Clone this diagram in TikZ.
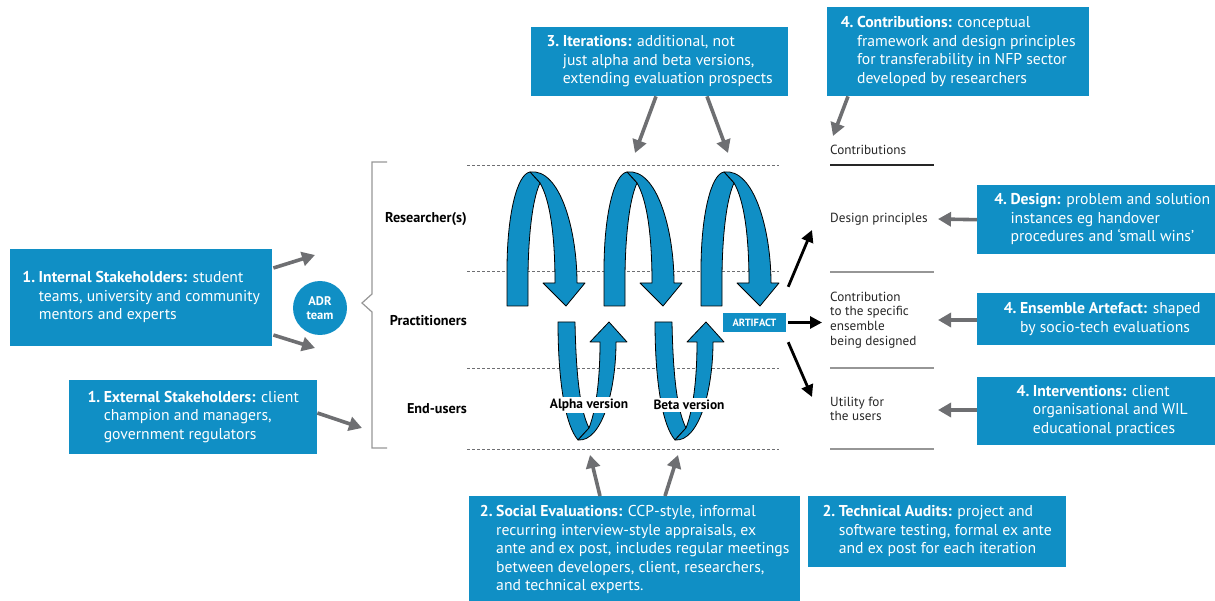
\documentclass[tikz,border=0pt]{standalone}
\usepackage{fontspec}
\setmainfont{PT Sans}
\usetikzlibrary{arrows.meta,calc}
\definecolor{adrblue}{RGB}{16,143,197}
\definecolor{agray}{RGB}{110,111,114}
\definecolor{lgray}{RGB}{150,150,150}
\newcommand{\boxtxt}[2]{\begin{tabular}{@{}l@{\hspace{3.5pt}}l@{}}\textbf{#1}&#2\end{tabular}}
\tikzset{
  bbox/.style={fill=adrblue, text=white, inner sep=0pt, anchor=north west, font=\fontsize{15.7}{18.5}\selectfont},
  garrow/.style={draw=agray, line width=3.6pt, -{Triangle[width=14pt,length=13pt]}},
  karrow/.style={draw=black, line width=2.8pt, -{Triangle[width=12pt,length=12pt]}},
  rowlab/.style={font=\bfseries\fontsize{14.2}{16}\selectfont, anchor=east, inner sep=0pt},
  rlab/.style={font=\fontsize{13.2}{14.7}\selectfont, anchor=west, inner sep=0pt, align=left, text=black!85},
  dline/.style={draw=agray, dash pattern=on 3pt off 2pt, line width=0.8pt},
  sepline/.style={draw=lgray, line width=1.5pt},
  ribbon/.style={fill=adrblue, draw=black, line width=0.8pt, line join=round},
  verlab/.style={fill=white, inner xsep=1pt, inner ysep=2pt, font=\bfseries\fontsize{13.4}{15}\selectfont},
}
\begin{document}
\begin{tikzpicture}[x=1pt,y=-1pt]
\useasboundingbox (0,0) rectangle (1215,601);

% dashed swimlane lines
\foreach \yy in {165,271,368,449}{\draw[dline] (467,\yy) -- (779,\yy);}

% row labels
\node[rowlab] (lres) at (467,219) {Researcher(s)};
\node[rowlab] (lpra) at (467,321) {Practitioners};
\node[rowlab] (lend) at (467,409) {End-users};

% bracket
\draw[lgray, line width=1.2pt] (387,162) -- (372,162) -- (372,294) -- (362,303) -- (372,312) -- (372,448) -- (387,448);

% top loops
\foreach \s in {0,97,194}{
\begin{scope}[shift={(\s,0)}]
  \draw[ribbon] (530,172) .. controls (560,168) and (577,230) .. (577,283)
     -- (585,283) -- (566,306) -- (543,283) -- (555,283)
     .. controls (555,235) and (550,200) .. (540,183) -- cycle;
  \draw[ribbon] (507,306) -- (507,270) .. controls (507,215) and (517,174) .. (530,172)
     -- (540,183) .. controls (532,200) and (528,240) .. (528,280) -- (528,306) -- cycle;
\end{scope}}

% bottom loops
\foreach \s in {0,97}{
\begin{scope}[shift={(\s,0)}]
  \draw[ribbon] (558,322) -- (575,322) .. controls (576,375) and (580,410) .. (589,428)
     -- (578,440) .. controls (565,425) and (558,380) .. (558,322) -- cycle;
  \draw[ribbon] (578,440) .. controls (602,442) and (616,390) .. (616,342)
     -- (627,342) -- (609,322) -- (590,342) -- (600,342)
     .. controls (600,380) and (596,410) .. (589,428) -- cycle;
\end{scope}}
\node[verlab] (alpha) at (589,405) {Alpha version};
\node[verlab] (beta) at (689,405) {Beta version};

% artifact
\node[fill=adrblue, text=white, font=\bfseries\fontsize{10.5}{12}\selectfont, minimum width=63pt, minimum height=19pt, inner sep=0pt] (art) at (754.5,322.5) {ARTIFACT};
\coordinate (k1) at (812,230);
\coordinate (k2) at (822,322.5);
\coordinate (k3) at (812,397);
\draw[karrow] ($(art.north east)+(2,-26)$) -- (k1);
\draw[karrow] ($(art.east)+(2,0)$) -- (k2);
\draw[karrow] ($(art.south east)+(2,10)$) -- (k3);

% right column
\node[rlab] (rcon) at (830,150) {Contributions};
\draw[black!85, line width=1.2pt] (830,165) -- (934,165);
\node[rlab] (rdes) at (830,219) {Design principles};
\draw[sepline] (830,272) -- (934,272);
\node[rlab] (rens) at (830,320) {Contribution\\to the specific\\ensemble\\being designed};
\draw[sepline] (830,368) -- (934,368);
\node[rlab] (ruti) at (830,409) {Utility for\\the users};
\draw[sepline] (830,449) -- (934,449);

% ADR team
\node[circle, fill=adrblue, minimum size=54pt, text=white, font=\bfseries\fontsize{12.5}{14.5}\selectfont, align=center, inner sep=0pt] (adr) at (320,308) {ADR\\team};

% blue boxes
\node[bbox, minimum width=262pt, minimum height=97pt] (int) at (10,249)
  {\boxtxt{1.}{\textbf{Internal Stakeholders:} student\\&teams, university and community\\&mentors and experts}};
\node[bbox, minimum width=248pt, minimum height=74pt] (ext) at (69,380)
  {\boxtxt{1.}{\textbf{External Stakeholders:} client\\&champion and managers,\\&government regulators}};
\node[bbox, minimum width=257pt, minimum height=69pt] (itr) at (531,27)
  {\boxtxt{3.}{\textbf{Iterations:} additional, not\\&just alpha and beta versions,\\&extending evaluation prospects}};
\node[bbox, minimum width=262pt, minimum height=89pt] (con) at (827,7)
  {\boxtxt{4.}{\textbf{Contributions:} conceptual\\&framework and design principles\\&for transferability in NFP sector\\&developed by researchers}};
\node[bbox, minimum width=250pt, minimum height=69pt] (des) at (977,185)
  {\boxtxt{4.}{\textbf{Design:} problem and solution\\&instances eg handover\\&procedures and `small wins'}};
\node[bbox, minimum width=250pt, minimum height=52pt] (ens) at (977,293)
  {\boxtxt{4.}{\textbf{Ensemble Artefact:} shaped\\&by socio-tech evaluations}};
\node[bbox, minimum width=250pt, minimum height=68pt] (ivn) at (977,377)
  {\boxtxt{4.}{\textbf{Interventions:} client\\&organisational and WIL\\&educational practices}};
\node[bbox, minimum width=331pt, minimum height=108pt] (soc) at (469,496)
  {\boxtxt{2.}{\textbf{Social Evaluations:} CCP-style, informal\\&recurring interview-style appraisals, ex\\&ante and ex post, includes regular meetings\\&between developers, client, researchers,\\&and technical experts.}};
\node[bbox, minimum width=258pt, minimum height=71pt] (tec) at (808,496)
  {\boxtxt{2.}{\textbf{Technical Audits:} project and\\&software testing, formal ex ante\\&and ex post for each iteration}};

% gray arrows
\coordinate (g1) at (315,255);
\coordinate (g2) at (315,348);
\coordinate (g3) at (362,428);
\coordinate (g4) at (635,153);
\coordinate (g5) at (728,153);
\coordinate (g6) at (833,136);
\coordinate (g7) at (938,219);
\coordinate (g8) at (938,320);
\coordinate (g9) at (938,410);
\coordinate (g10) at (590,455);
\coordinate (g11) at (678,455);
\draw[garrow] ($(int.north east)+(1,19)$) -- (g1);
\draw[garrow] ($(int.north east)+(1,86)$) -- (g2);
\draw[garrow] ($(ext.north east)+(0,33)$) -- (g3);
\draw[garrow] ($(itr.south west)+(125,0)$) -- (g4);
\draw[garrow] ($(itr.south west)+(176,0)$) -- (g5);
\draw[garrow] ($(con.south west)+(21,0)$) -- (g6);
\draw[garrow] (des.west) -- (g7);
\draw[garrow] ($(ens.north west)+(0,27)$) -- (g8);
\draw[garrow] ($(ivn.north west)+(0,33)$) -- (g9);
\draw[garrow] ($(soc.north west)+(131,0)$) -- (g10);
\draw[garrow] ($(soc.north west)+(196,0)$) -- (g11);
\end{tikzpicture}
\end{document}
